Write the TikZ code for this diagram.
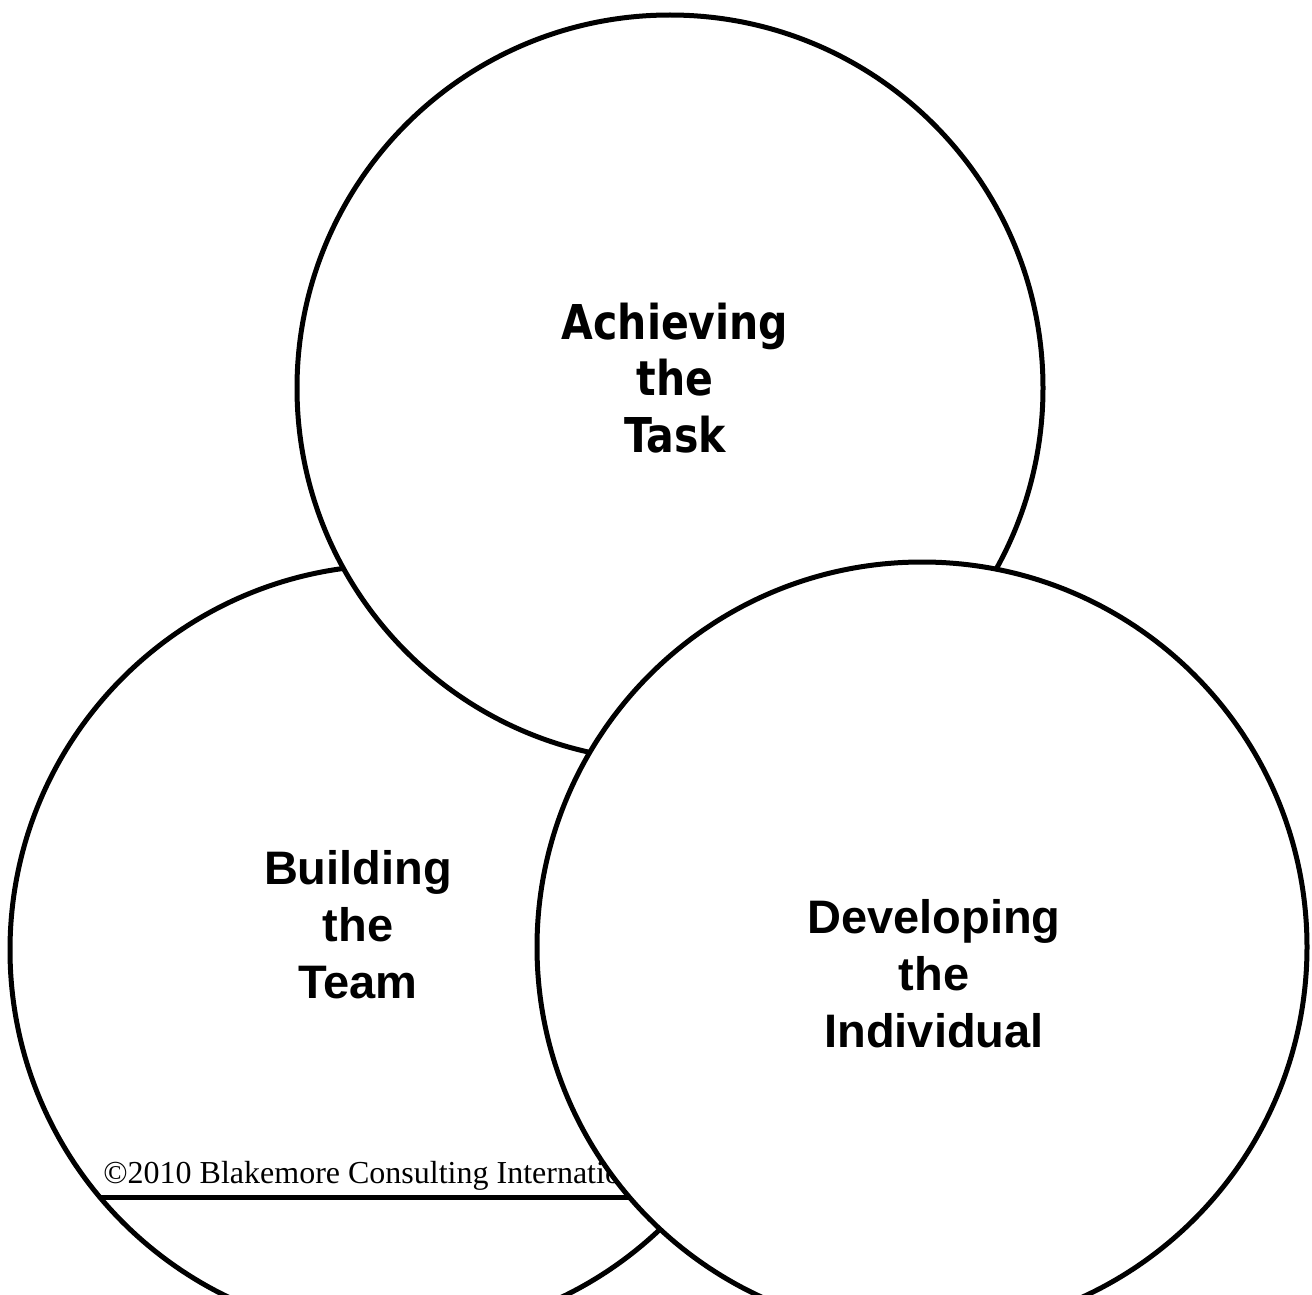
\documentclass[tikz,border=0pt]{standalone}
\usepackage{fontspec}
\setmainfont{Liberation Serif}
\newfontfamily\arialfont{Liberation Sans}
\newfontfamily\tahomafont{DejaVu Sans Condensed}

\begin{document}
\begin{tikzpicture}[x=0.5pt, y=-0.5pt,
    ring/.style={circle, draw, fill=white, line width=2.5pt, inner sep=0pt, outer sep=0pt},
    tag/.style={align=center, inner sep=0pt, font=\arialfont\bfseries\fontsize{23.5}{28.5}\selectfont},
  ]
%    \draw [help lines, opacity=0.5] (0,0) grid [step=100] (1312,1295);
    \useasboundingbox (0,0) rectangle (1312,1295);
    \clip (0,0) rectangle (1312,1295);

    %% the three circles, back to front
    \node (team) [ring, minimum size=385pt] at (395,950) {};
    \node (task) [ring, minimum size=373pt] at (670,388) {};

    %% footer under the copyright
    \coordinate (ruleL) at (99.7,1197);
    \coordinate (ruleR) at (720,1197);
    \draw [line width=2.5pt] (ruleL) -- (ruleR);
    \node (copy) [anchor=base west, inner sep=0pt, font=\fontsize{16}{19}\selectfont] at (103,1183) {\char"00A9 2010 Blakemore Consulting International};

    \node (indiv) [ring, minimum size=385pt] at (922,947) {};

    %% labels
    \node (taskL) [tag, xscale=0.95, font=\tahomafont\bfseries\fontsize{24}{28.25}\selectfont] at (675,378) {Achieving\\the\\Task};
    \node (teamL) [tag] at (358,925) {Building\\the\\Team};
    \node (indivL) [tag] at (934,974) {Developing\\the\\Individual};

  \end{tikzpicture}
\end{document}
